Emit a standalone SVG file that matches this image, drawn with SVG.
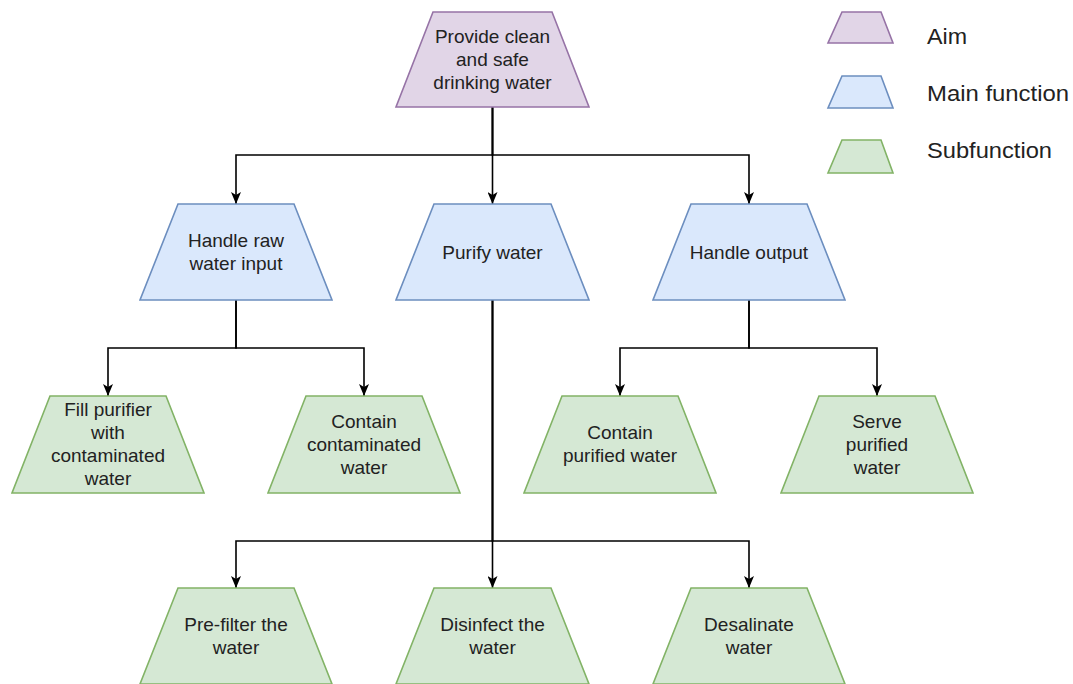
<svg xmlns="http://www.w3.org/2000/svg" width="1073" height="684" viewBox="0 0 1073 684">
<style>
.aim{fill:#e1d5e7;stroke:#9673a6;stroke-width:1.6}
.main{fill:#dae8fc;stroke:#6c8ebf;stroke-width:1.6}
.sub{fill:#d5e8d4;stroke:#82b366;stroke-width:1.6}
.t{font-family:"Liberation Sans",Arial,sans-serif;font-size:19px;fill:#222;text-anchor:middle}
.lg{font-family:"Liberation Sans",Arial,sans-serif;font-size:22.5px;fill:#222}
.e{fill:none;stroke:#000;stroke-width:1.6;marker-end:url(#arr)}
</style>
<defs>
<marker id="arr" viewBox="0 0 12 10" refX="12" refY="5" markerWidth="12" markerHeight="10" markerUnits="userSpaceOnUse" orient="auto">
<path d="M0,0 L12,5 L0,10 L3,5 z" fill="#000"/>
</marker>
</defs>
<rect width="1073" height="684" fill="#fff"/>
<g id="connectors">
<path class="e" d="M492.5,107 V155 H236 V204"/>
<path class="e" d="M492.5,107 V204"/>
<path class="e" d="M492.5,107 V155 H749 V204"/>
<path class="e" d="M236,300 V348 H108 V396"/>
<path class="e" d="M236,300 V348 H364 V396"/>
<path class="e" d="M749,300 V348 H620 V396"/>
<path class="e" d="M749,300 V348 H877 V396"/>
<path class="e" d="M492.5,300 V541 H236 V588"/>
<path class="e" d="M492.5,300 V588"/>
<path class="e" d="M492.5,300 V541 H749 V588"/>
</g>
<g id="aim-node">
<polygon class="aim" points="433,12 552,12 589,107 396,107"/>
<text class="t"><tspan x="492.5" y="43">Provide clean</tspan><tspan x="492.5" y="66">and safe</tspan><tspan x="492.5" y="89">drinking water</tspan></text>
</g>
<g id="handle-raw">
<polygon class="main" points="178,204 294,204 332,300 140,300"/>
<text class="t"><tspan x="236" y="247">Handle raw</tspan><tspan x="236" y="270">water input</tspan></text>
</g>
<g id="purify">
<polygon class="main" points="434,204 551,204 589,300 396,300"/>
<text class="t" x="492.5" y="259">Purify water</text>
</g>
<g id="handle-output">
<polygon class="main" points="691,204 807,204 845,300 653,300"/>
<text class="t" x="749" y="259">Handle output</text>
</g>
<g id="fill-purifier">
<polygon class="sub" points="50,396 166,396 204,493 12,493"/>
<text class="t"><tspan x="108" y="416">Fill purifier</tspan><tspan x="108" y="439">with</tspan><tspan x="108" y="462">contaminated</tspan><tspan x="108" y="485">water</tspan></text>
</g>
<g id="contain-contaminated">
<polygon class="sub" points="306,396 422,396 460,493 268,493"/>
<text class="t"><tspan x="364" y="428">Contain</tspan><tspan x="364" y="451">contaminated</tspan><tspan x="364" y="474">water</tspan></text>
</g>
<g id="contain-purified">
<polygon class="sub" points="562,396 678,396 716,493 524,493"/>
<text class="t"><tspan x="620" y="439">Contain</tspan><tspan x="620" y="462">purified water</tspan></text>
</g>
<g id="serve-purified">
<polygon class="sub" points="819,396 935,396 973,493 781,493"/>
<text class="t"><tspan x="877" y="428">Serve</tspan><tspan x="877" y="451">purified</tspan><tspan x="877" y="474">water</tspan></text>
</g>
<g id="pre-filter">
<polygon class="sub" points="178,588 294,588 332,684 140,684"/>
<text class="t"><tspan x="236" y="631">Pre-filter the</tspan><tspan x="236" y="654">water</tspan></text>
</g>
<g id="disinfect">
<polygon class="sub" points="434,588 551,588 589,684 396,684"/>
<text class="t"><tspan x="492.5" y="631">Disinfect the</tspan><tspan x="492.5" y="654">water</tspan></text>
</g>
<g id="desalinate">
<polygon class="sub" points="691,588 807,588 845,684 653,684"/>
<text class="t"><tspan x="749" y="631">Desalinate</tspan><tspan x="749" y="654">water</tspan></text>
</g>
<g id="legend-aim">
<polygon class="aim" points="842,12 881,12 893,43 828,43"/>
<text class="lg" x="927" y="44" textLength="40" lengthAdjust="spacingAndGlyphs">Aim</text>
</g>
<g id="legend-main">
<polygon class="main" points="842,76 881,76 893,108 828,108"/>
<text class="lg" x="927" y="101" textLength="142" lengthAdjust="spacingAndGlyphs">Main function</text>
</g>
<g id="legend-sub">
<polygon class="sub" points="842,140 881,140 893,173 828,173"/>
<text class="lg" x="927" y="158" textLength="125" lengthAdjust="spacingAndGlyphs">Subfunction</text>
</g>
</svg>
